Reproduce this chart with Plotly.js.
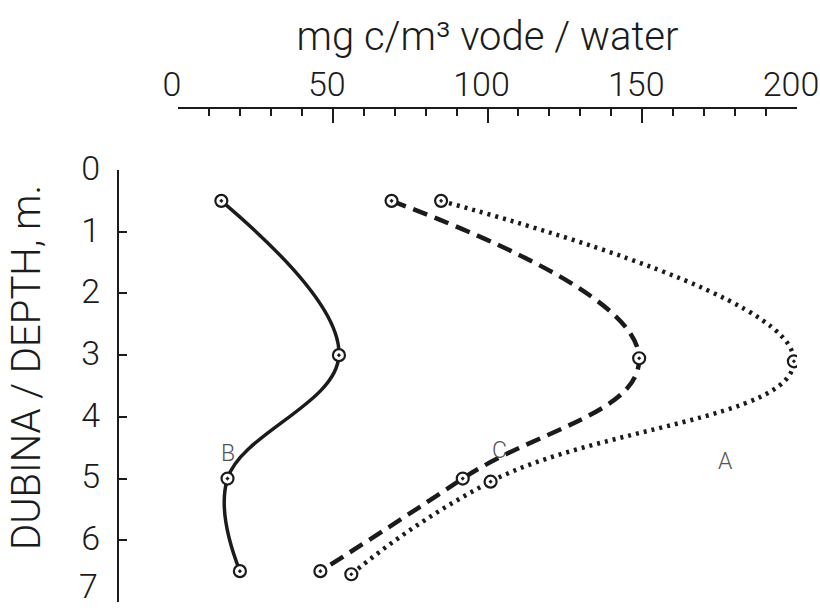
<!DOCTYPE html>
<html><head><meta charset="utf-8">
<script src="https://cdn.plot.ly/plotly-3.0.1.min.js"></script>
<style>html,body{margin:0;padding:0;background:#fff}#chart{width:820px;height:608px}</style>
</head><body><div id="chart"></div>
<script>
// Data
const depthB = [0.5, 3.0, 5.0, 6.5];
const valuesB = [14, 52, 16, 20];
const depthC = [0.5, 3.05, 5.0, 6.5];
const valuesC = [69, 149, 92, 46];
const depthA = [0.5, 3.1, 5.05, 6.55];
const valuesA = [85, 199, 101, 56];
const xTickVals = [0, 50, 100, 150, 200];
const yTickVals = [0, 1, 2, 3, 4, 5, 6, 7];
const curveNames = ['A', 'B', 'C'];
const xTitle = 'mg c/m³ vode / water';
const yTitle = 'DUBINA / DEPTH, m.';

const FONT = 'Roboto, "Liberation Sans", sans-serif';
const INK = '#1b1b1b';
const TFS = 34;

const markerStyle = {symbol: 'circle-dot', size: 12, color: '#ffffff', line: {color: INK, width: 2.2}};

const traces = [
  {x: valuesB, y: depthB, name: curveNames[1], mode: 'lines+markers',
   line: {color: INK, width: 3.5, shape: 'spline', smoothing: 1.1}, marker: markerStyle},
  {x: valuesC, y: depthC, name: curveNames[2], mode: 'lines+markers',
   line: {color: INK, width: 4.5, dash: '15px,8px', shape: 'spline', smoothing: 1.3}, marker: markerStyle},
  {x: valuesA, y: depthA, name: curveNames[0], mode: 'lines+markers',
   line: {color: INK, width: 4.5, dash: '3px,5px', shape: 'spline', smoothing: 1.3}, marker: markerStyle}
];

const labelPos = {A: [177, 4.73], B: [16, 4.59], C: [104, 4.55]};
const annotations = curveNames.map(n => ({
  x: labelPos[n][0], y: labelPos[n][1], xref: 'x', yref: 'y', text: n, showarrow: false,
  font: {family: FONT, size: 23, color: '#555', weight: 300}
}));
annotations.push({
  text: yTitle, xref: 'paper', yref: 'paper', x: -0.134, y: 0.4737, xanchor: 'center', yanchor: 'middle',
  textangle: -90, showarrow: false, font: {family: FONT, size: 40, color: INK, weight: 300}
});
// the deepest label sits at the picture's bottom edge: drawn as text lifted just enough to stay inside
const lastDepth = yTickVals[yTickVals.length - 1];
annotations.push({
  text: String(lastDepth), xref: 'paper', yref: 'paper', x: -0.026, y: 0.033,
  xanchor: 'right', yanchor: 'middle', showarrow: false,
  font: {family: FONT, size: TFS, color: INK, weight: 300}
});

const layout = {
  width: 820, height: 608,
  margin: {l: 118, r: 23, t: 108, b: 6},
  paper_bgcolor: '#fff', plot_bgcolor: '#fff',
  showlegend: false,
  font: {family: FONT, color: INK, weight: 300},
  xaxis: {
    domain: [60/679, 1], range: [0, 200], side: 'top', anchor: 'free', position: 1,
    tickvals: xTickVals, ticks: 'inside', ticklen: 14, tickwidth: 2, tickcolor: INK,
    minor: {dtick: 10, ticks: 'inside', ticklen: 7, tickwidth: 2, tickcolor: INK},
    showline: true, linewidth: 2, linecolor: INK, showgrid: false, zeroline: false,
    tickfont: {family: FONT, size: TFS, color: INK, weight: 300}, ticklabelstandoff: -3,
    ticklabelshift: -6, ticklabeloverflow: 'allow',
    title: {text: xTitle, font: {family: FONT, size: 40, color: INK, weight: 300}, standoff: 0}
  },
  yaxis: {
    domain: [0, 432/494], range: [7, 0], anchor: 'free', position: 0,
    tickvals: yTickVals.slice(0, -1), ticks: 'inside', ticklen: 8, tickwidth: 2, tickcolor: INK,
    minor: {tickmode: 'array', tickvals: [lastDepth], ticks: 'inside', ticklen: 8, tickwidth: 2, tickcolor: INK},
    showline: true, linewidth: 2, linecolor: INK, showgrid: false, zeroline: false,
    tickfont: {family: FONT, size: TFS, color: INK, weight: 300}, ticklabelstandoff: 10,
    ticklabelshift: 2, ticklabeloverflow: 'allow'
  },
  annotations: annotations
};

Plotly.newPlot('chart', traces, layout, {displayModeBar: false, staticPlot: true});
</script></body></html>
